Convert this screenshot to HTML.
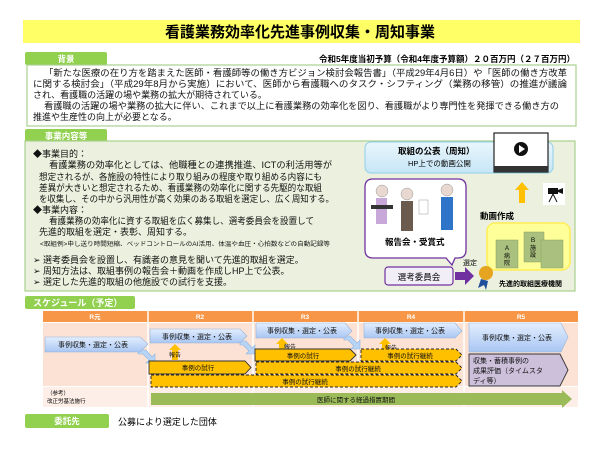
<!DOCTYPE html>
<html><head><meta charset="utf-8"><style>
html,body{margin:0;padding:0;background:#fff;}
svg{display:block;font-family:"Liberation Sans","Noto Sans CJK JP",sans-serif;}
</style></head><body>
<svg width="600" height="450" viewBox="0 0 600 450" xmlns="http://www.w3.org/2000/svg">
<defs>
<linearGradient id="bl" x1="0" y1="0" x2="0" y2="1"><stop offset="0" stop-color="#e3eeff"/><stop offset="1" stop-color="#a9c6f2"/></linearGradient>
<linearGradient id="sky" x1="0" y1="0" x2="0" y2="1"><stop offset="0" stop-color="#eaf6fc"/><stop offset="1" stop-color="#c6e6f6"/></linearGradient>
</defs>
<rect x="23" y="20" width="557" height="23" fill="#ffff66"/>
<text x="300" y="37" font-size="15" font-weight="bold" text-anchor="middle" fill="#000">看護業務効率化先進事例収集・周知事業</text>
<rect x="25" y="52" width="82" height="13" rx="2" fill="#92d050"/>
<text x="66" y="62" font-size="8.5" font-weight="bold" fill="#fff" text-anchor="middle">背景</text>
<text x="575" y="62" font-size="8.5" font-weight="bold" text-anchor="end">令和5年度当初予算（令和4年度予算額）２０百万円（２７百万円）</text>
<rect x="27" y="65" width="549" height="61" fill="#fff" stroke="#a9d08e" stroke-width="1.2"/>
<g font-size="9" fill="#111">
<text x="44" y="76" textLength="523" lengthAdjust="spacingAndGlyphs">「新たな医療の在り方を踏まえた医師・看護師等の働き方ビジョン検討会報告書」（平成29年4月6日）や「医師の働き方改革</text>
<text x="33" y="87" textLength="534" lengthAdjust="spacingAndGlyphs">に関する検討会」（平成29年8月から実施）において、医師から看護職へのタスク・シフティング（業務の移管）の推進が議論</text>
<text x="33" y="98">され、看護職の活躍の場や業務の拡大が期待されている。</text>
<text x="44" y="109" textLength="515" lengthAdjust="spacingAndGlyphs">看護職の活躍の場や業務の拡大に伴い、これまで以上に看護業務の効率化を図り、看護職がより専門性を発揮できる働き方の</text>
<text x="33" y="120">推進や生産性の向上が必要となる。</text>
</g>
<rect x="25" y="129" width="82" height="13" rx="2" fill="#92d050"/>
<text x="66" y="139" font-size="8.5" font-weight="bold" fill="#fff" text-anchor="middle">事業内容等</text>
<rect x="25" y="141" width="550" height="150" fill="#ebf1de" stroke="#a9d08e" stroke-width="1.2"/>
<g font-size="9" fill="#111">
<text x="33" y="157">◆事業目的：</text>
<text x="49" y="168" textLength="283" lengthAdjust="spacingAndGlyphs">看護業務の効率化としては、他職種との連携推進、ICTの利活用等が</text>
<text x="39" y="180" textLength="283" lengthAdjust="spacingAndGlyphs">想定されるが、各施設の特性により取り組みの程度や取り組める内容にも</text>
<text x="39" y="191" textLength="283" lengthAdjust="spacingAndGlyphs">差異が大きいと想定されるため、看護業務の効率化に関する先駆的な取組</text>
<text x="39" y="202" textLength="295" lengthAdjust="spacingAndGlyphs">を収集し、その中から汎用性が高く効果のある取組を選定し、広く周知する。</text>
<text x="33" y="213">◆事業内容：</text>
<text x="49" y="224" textLength="265" lengthAdjust="spacingAndGlyphs">看護業務の効率化に資する取組を広く募集し、選考委員会を設置して</text>
<text x="39" y="235">先進的取組を選定・表彰、周知する。</text>
<text x="40" y="246" font-size="6" textLength="290" lengthAdjust="spacingAndGlyphs">&lt;取組例&gt;申し送り時間短縮、ベッドコントロールのAI活用、体温や血圧・心拍数などの自動記録等</text>
<text x="33" y="263">➢ 選考委員会を設置し、有識者の意見を聞いて先進的取組を選定。</text>
<text x="33" y="274">➢ 周知方法は、取組事例の報告会＋動画を作成しHP上で公表。</text>
<text x="33" y="285">➢ 選定した先進的取組の他施設での試行を支援。</text>
</g>
<rect x="365" y="142" width="188" height="31" rx="6" fill="url(#sky)" stroke="#8fd0ea"/>
<text x="398" y="154" font-size="8.5" font-weight="bold">取組の公表（周知）</text>
<text x="408" y="166" font-size="7.5">HP上での動画公開</text>
<rect x="494" y="133" width="54" height="39" fill="#fff" stroke="#222" stroke-width="1.2"/>
<rect x="494" y="166" width="54" height="6" fill="#333"/>
<circle cx="521" cy="149" r="7" fill="#111"/><polygon points="519,145 525,149 519,153" fill="#fff"/>
<polygon points="522,182 529,190 525,190 525,203 519,203 519,190 515,190" fill="#ffc000"/>
<rect x="543" y="183" width="22" height="22" fill="#fff"/>
<rect x="548" y="188" width="10" height="6" fill="#111"/><polygon points="558,190 563,188 563,194 558,192" fill="#111"/>
<line x1="553" y1="194" x2="549" y2="202" stroke="#111"/><line x1="553" y1="194" x2="557" y2="202" stroke="#111"/>
<text x="480" y="219" font-size="8.5" font-weight="bold">動画作成</text>
<path d="M373 179 H458 Q466 179 466 187 V250 Q466 258 458 258 H455 L452 265 L446 258 H373 Q365 258 365 250 V187 Q365 179 373 179 Z" fill="#fff" stroke="#7030a0" stroke-width="1.3"/>
<g>
<circle cx="382" cy="191" r="6" fill="#e8d8d0" stroke="#999" stroke-width=".5"/><rect x="376" y="198" width="11" height="26" fill="#c8a8d8"/>
<rect x="371" y="205" width="22" height="4" fill="#333"/>
<circle cx="407" cy="194" r="6" fill="#e8d8d0" stroke="#999" stroke-width=".5"/><rect x="401" y="201" width="12" height="30" fill="#6b5a4e"/>
<rect x="419" y="200" width="9" height="14" fill="#fff" stroke="#999" stroke-width=".5"/>
<circle cx="447" cy="190" r="6" fill="#e8d8d0" stroke="#999" stroke-width=".5"/><rect x="441" y="197" width="12" height="33" fill="#2e74c9"/>
</g>
<text x="385" y="245" font-size="8.5" font-weight="bold">報告会・受賞式</text>
<rect x="487" y="223" width="83" height="47" rx="8" fill="#ffff99" stroke="#ffee55" stroke-width="1.5"/>
<rect x="496" y="240" width="22" height="28" fill="#a9c07e" stroke="#8aa060" stroke-width=".5"/>
<rect x="524" y="232" width="20" height="30" fill="#a9c07e" stroke="#8aa060" stroke-width=".5"/>
<rect x="541" y="240" width="22" height="28" fill="#a9c07e" stroke="#8aa060" stroke-width=".5"/>
<text x="507" y="250" font-size="6" text-anchor="middle">Ａ</text><text x="507" y="258" font-size="6" text-anchor="middle">病</text><text x="507" y="265" font-size="6" text-anchor="middle">院</text>
<text x="533" y="242" font-size="6" text-anchor="middle">Ｂ</text><text x="533" y="250" font-size="6" text-anchor="middle">施</text><text x="533" y="257" font-size="6" text-anchor="middle">設</text>
<text x="463" y="265" font-size="7">選定</text>
<rect x="385" y="267" width="68" height="18" rx="3" fill="#f2eef8" stroke="#7030a0" stroke-width="1.2"/>
<text x="419" y="280" font-size="8.5" text-anchor="middle">選考委員会</text>
<polygon points="455,272 465,272 465,267 474,276 465,285 465,280 455,280" fill="#7030a0"/>
<circle cx="486" cy="273" r="7" fill="#e6a520"/><polygon points="481,279 478,288 484,285 486,290 488,281" fill="#1f4e9c"/>
<text x="499" y="286" font-size="7" font-weight="bold">先進的取組医療機関</text>
<rect x="25" y="296" width="110" height="13" rx="2" fill="#92d050"/>
<text x="33" y="306" font-size="9" font-weight="bold" fill="#fff">スケジュール（予定）</text>
<rect x="43" y="311" width="535" height="11" fill="#f79646"/>
<g font-size="6.5" fill="#fff" text-anchor="middle" font-weight="bold"><text x="95" y="319">R元</text><text x="200" y="319">R2</text><text x="305" y="319">R3</text><text x="411" y="319">R4</text><text x="521" y="319">R5</text></g>
<rect x="43" y="323" width="535" height="63" fill="#fbe2d5"/>
<rect x="43" y="387" width="535" height="20" fill="#fdeee8"/>
<g stroke="#fff" stroke-width="1.5"><line x1="148" y1="311" x2="148" y2="407"/><line x1="253" y1="311" x2="253" y2="407"/><line x1="358" y1="311" x2="358" y2="407"/><line x1="464" y1="311" x2="464" y2="407"/></g>
<g fill="#b7d4f4" stroke="#8fb4e3" stroke-width=".6">
<polygon points="138,350 146,350 152,357 155,354 155,363 146,363 149,360 143,354 138,354"/>
<polygon points="240,341 246,341 252,348 255,345 255,354 246,354 249,351 243,345 240,345"/>
<polygon points="344,336 350,336 357,343 360,340 360,349 351,349 354,346 348,340 344,340"/>
</g>
<g fill="url(#bl)" stroke="#95b3d7" stroke-width=".6">
<polygon points="45,337 140,337 148,344 140,352 45,352"/>
<polygon points="150,329 240,329 247,336 240,343 150,343"/>
<polygon points="256,323 345,323 352,331 345,338 256,338"/>
<polygon points="364,323 455,323 462,331 455,338 364,338"/>
<polygon points="469,323 561,323 568,337 561,352 469,352"/>
</g>
<g font-size="7" text-anchor="middle" fill="#111">
<text x="93" y="347">事例収集・選定・公表</text>
<text x="197" y="339">事例収集・選定・公表</text>
<text x="302" y="333">事例収集・選定・公表</text>
<text x="410" y="333">事例収集・選定・公表</text>
<text x="517" y="340">事例収集・選定・公表</text>
</g>
<g fill="#ffc000">
<polygon points="175,344 181,350 178,350 178,360 172,360 172,350 169,350"/>
<polygon points="282,338 288,344 285,344 285,349 279,349 279,344 276,344"/>
<polygon points="385,338 391,344 388,344 388,349 382,349 382,344 379,344"/>
</g>
<g font-size="6" fill="#111"><text x="169" y="357">報告</text><text x="284" y="349">報告</text><text x="385" y="350">報告</text></g>
<g fill="#ffc000" stroke="#333" stroke-width=".9">
<polygon points="149,361 245,361 251,367.5 245,374 149,374"/>
<polygon points="255,349 350,349 356,355 350,361 255,361"/>
</g>
<g fill="#ffc000" stroke="#222" stroke-width=".9" stroke-dasharray="3,2">
<polygon points="361,349 456,349 462,355 456,361 361,361"/>
<polygon points="256,362 456,362 462,368 456,374 256,374"/>
<polygon points="151,375 456,375 462,381 456,387 151,387"/>
</g>
<g font-size="6.5" text-anchor="middle" fill="#111">
<text x="198" y="370">事例の試行</text>
<text x="303" y="358">事例の試行</text>
<text x="410" y="358">事例の試行継続</text>
<text x="358" y="371">事例の試行継続</text>
<text x="305" y="384">事例の試行継続</text>
</g>
<polygon points="469,354 560,354 568,370 560,386 469,386" fill="#ccc0da" stroke="#333" stroke-width=".9"/>
<g font-size="7" fill="#111"><text x="473" y="363">収集・蓄積事例の</text><text x="473" y="373">成果評価（タイムスタ</text><text x="473" y="383">ディ等）</text></g>
<text x="47" y="395" font-size="5.5">（参考）</text>
<text x="47" y="403" font-size="5.5">改正労基法施行</text>
<polygon points="151,393 562,393 562,390 572,399 562,408 562,405 151,405" fill="#9bbb59"/>
<text x="356" y="402" font-size="6.5" text-anchor="middle" fill="#111">医師に関する経過措置期間</text>
<rect x="25" y="414" width="84" height="14" rx="2" fill="#92d050"/>
<text x="67" y="424" font-size="8.5" font-weight="bold" fill="#fff" text-anchor="middle">委託先</text>
<text x="118" y="425" font-size="9">公募により選定した団体</text>
</svg>
</body></html>
